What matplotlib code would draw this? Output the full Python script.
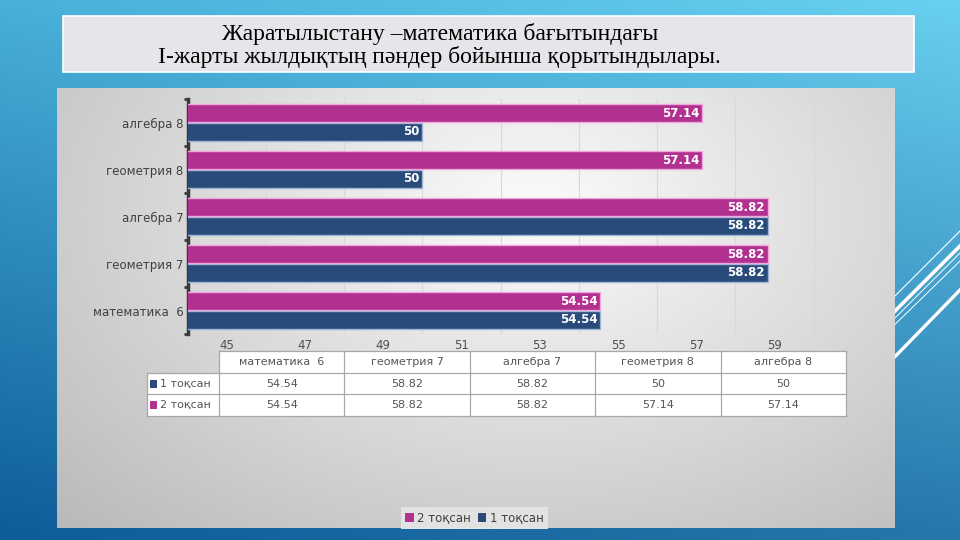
import numpy as np
import matplotlib
matplotlib.use("Agg")
import matplotlib.pyplot as plt
from matplotlib.patches import Rectangle
from matplotlib.lines import Line2D

# ---------------- data ----------------
categories = ["математика  6", "геометрия 7", "алгебра 7", "геометрия 8", "алгебра 8"]
series_names = ["1 тоқсан", "2 тоқсан"]
q1_values = [54.54, 58.82, 58.82, 50, 50]
q2_values = [54.54, 58.82, 58.82, 57.14, 57.14]
x_tick_values = [45, 47, 49, 51, 53, 55, 57, 59]
title_lines = ["Жаратылыстану –математика бағытындағы",
               "I-жарты жылдықтың пәндер бойынша қорытындылары."]

# ---------------- style ----------------
C_NAVY = "#284b7a"
C_MAG = "#b2308f"
E_NAVY = "#9fb6d6"
E_MAG = "#f2a6e0"
TXT = "#404040"

W, H = 960, 540
fig = plt.figure(figsize=(9.6, 5.4), dpi=100)

# overlay axes in pixel coordinates
ov = fig.add_axes([0, 0, 1, 1])
ov.set_xlim(0, W)
ov.set_ylim(H, 0)
ov.axis("off")
ov.set_zorder(0)

# blue background gradient (bilinear)
yy, xx = np.mgrid[0:1:120j, 0:1:200j]
tl = np.array([72, 176, 218]) / 255
tr = np.array([104, 208, 240]) / 255
bl = np.array([14, 92, 152]) / 255
br = np.array([38, 118, 172]) / 255
img = ((1 - xx)[..., None] * (1 - yy)[..., None] * tl + xx[..., None] * (1 - yy)[..., None] * tr
       + (1 - xx)[..., None] * yy[..., None] * bl + xx[..., None] * yy[..., None] * br)
ov.imshow(img, extent=(0, W, H, 0), aspect="auto", zorder=0, interpolation="bilinear")

# decorative white diagonal lines on the right
for (x0, y0, x1, y1, lw) in [(880, 311, 960, 231, 0.8), (880, 326, 960, 246, 2.6),
                             (880, 333, 960, 253, 0.7), (880, 339, 960, 261, 0.7),
                             (880, 372, 960, 290, 2.4)]:
    ov.add_line(Line2D([x0, x1], [y0, y1], color="white", lw=lw, zorder=1))

# grey chart panel gradient
py, px = np.mgrid[0:1:120j, 0:1:200j]
d = np.sqrt(((px - 0.57) / 0.75) ** 2 + ((py - 0.28) / 0.95) ** 2)
v = np.clip(252 - 62 * d, 185, 252) / 255
panel = np.dstack([v, v, v])
ov.imshow(panel, extent=(57, 895, 528, 88), aspect="auto", zorder=2, interpolation="bilinear")
ov.set_xlim(0, W)
ov.set_ylim(H, 0)

# title box
ov.add_patch(Rectangle((63, 16), 851, 55.5, facecolor="#e6e6ea", edgecolor="white", lw=1.2, zorder=3))
ov.text(440, 40, title_lines[0], ha="center", va="baseline", fontsize=17,
        family="Liberation Serif", color="black", zorder=4)
ov.text(439, 63.5, title_lines[1], ha="center", va="baseline", fontsize=17,
        family="Liberation Serif", color="black", zorder=4)

# ---------------- main bar chart ----------------
L, R, T, B = 187.7, 892, 99, 334
ax = fig.add_axes([L / W, 1 - B / H, (R - L) / W, (B - T) / H])
ax.set_zorder(5)
ax.patch.set_alpha(0)

y = np.arange(len(categories))
bh = 0.38
off = 0.195
b1 = ax.barh(y - off, q1_values, height=bh, left=0, color=C_NAVY, edgecolor=E_NAVY, lw=1,
             label=series_names[0], zorder=3)
b2 = ax.barh(y + off, q2_values, height=bh, left=0, color=C_MAG, edgecolor=E_MAG, lw=1,
             label=series_names[1], zorder=3)
ax.set_xlim(44, 62)
ax.set_ylim(-0.5, len(categories) - 0.5)

for vals, dy in [(q1_values, -off), (q2_values, off)]:
    for i, val in enumerate(vals):
        ax.text(val - 0.07, i + dy, f"{val:g}", ha="right", va="center", color="white",
                fontsize=8.5, fontweight="bold", zorder=4)

ax.set_xticks(x_tick_values)
ax.set_xticklabels([str(t) for t in x_tick_values])
ax.set_xticks(np.arange(46, 62, 2), minor=True)
ax.grid(which="minor", axis="x", color="#d8d8d8", lw=0.8, zorder=0)
ax.tick_params(axis="x", which="both", length=0, pad=3.5, labelsize=8.5, labelcolor="#505050")

ax.set_yticks(y)
ax.set_yticklabels(categories)
ax.set_yticks(np.arange(-0.5, len(categories), 1.0), minor=True)
ax.tick_params(axis="y", which="major", length=0, pad=3, labelsize=8.5, labelcolor=TXT)
ax.tick_params(axis="y", which="minor", length=3, width=2, color="#3a3a3a", direction="out")

for s in ["top", "right", "bottom"]:
    ax.spines[s].set_visible(False)
ax.spines["left"].set_color("#3a3a3a")
ax.spines["left"].set_linewidth(2.5)

# ---------------- data table ----------------
tab_left, lab_right, tab_right = 146.7, 219, 846
row_edges = [351, 373.3, 394.3, 415.7]
ncol = len(categories)
col_w = (tab_right - lab_right) / ncol
grid_c = "#a8a8a8"
ov.add_patch(Rectangle((lab_right, row_edges[0]), tab_right - lab_right, row_edges[3] - row_edges[0],
                       facecolor="white", edgecolor="none", zorder=3))
ov.add_patch(Rectangle((tab_left, row_edges[1]), lab_right - tab_left, row_edges[3] - row_edges[1],
                       facecolor="white", edgecolor="none", zorder=3))
ov.add_line(Line2D([lab_right, tab_right], [row_edges[0]] * 2, color=grid_c, lw=0.9, zorder=4))
for ry in row_edges[1:]:
    ov.add_line(Line2D([tab_left, tab_right], [ry, ry], color=grid_c, lw=0.9, zorder=4))
ov.add_line(Line2D([tab_left, tab_left], [row_edges[1], row_edges[3]], color=grid_c, lw=0.9, zorder=4))
for j in range(ncol + 1):
    xj = lab_right + j * col_w
    ov.add_line(Line2D([xj, xj], [row_edges[0], row_edges[3]], color=grid_c, lw=0.9, zorder=4))

cell_txt = "#555555"
for j, cat in enumerate(categories):
    ov.text(lab_right + (j + 0.5) * col_w, (row_edges[0] + row_edges[1]) / 2, cat,
            ha="center", va="center", fontsize=8, color=cell_txt, zorder=5)
for r, (name, vals, col) in enumerate([(series_names[0], q1_values, C_NAVY),
                                        (series_names[1], q2_values, C_MAG)]):
    cy = (row_edges[r + 1] + row_edges[r + 2]) / 2
    ov.add_patch(Rectangle((149.5, cy - 3.8), 7.5, 7.5, facecolor=col, edgecolor="none", zorder=5))
    ov.text(160.5, cy, name, ha="left", va="center", fontsize=8, color=cell_txt, zorder=5)
    for j, val in enumerate(vals):
        ov.text(lab_right + (j + 0.5) * col_w, cy, f"{val:g}", ha="center", va="center",
                fontsize=8, color=cell_txt, zorder=5)

# ---------------- legend ----------------
leg = fig.legend(handles=[b2, b1], labels=[series_names[1], series_names[0]],
                 loc="center", bbox_to_anchor=(474.5 / W, 1 - 518 / H), ncol=2,
                 fontsize=8.5, frameon=True, fancybox=False, handlelength=0.7,
                 handleheight=0.7, handletextpad=0.3, columnspacing=0.6,
                 borderpad=0.35, borderaxespad=0)
leg.get_frame().set_facecolor("#e2e2e2")
leg.get_frame().set_edgecolor("none")
leg.get_frame().set_alpha(1)
for t in leg.get_texts():
    t.set_color(TXT)
for h in leg.legend_handles:
    h.set_edgecolor("none")

fig.savefig("out.png", dpi=100)
